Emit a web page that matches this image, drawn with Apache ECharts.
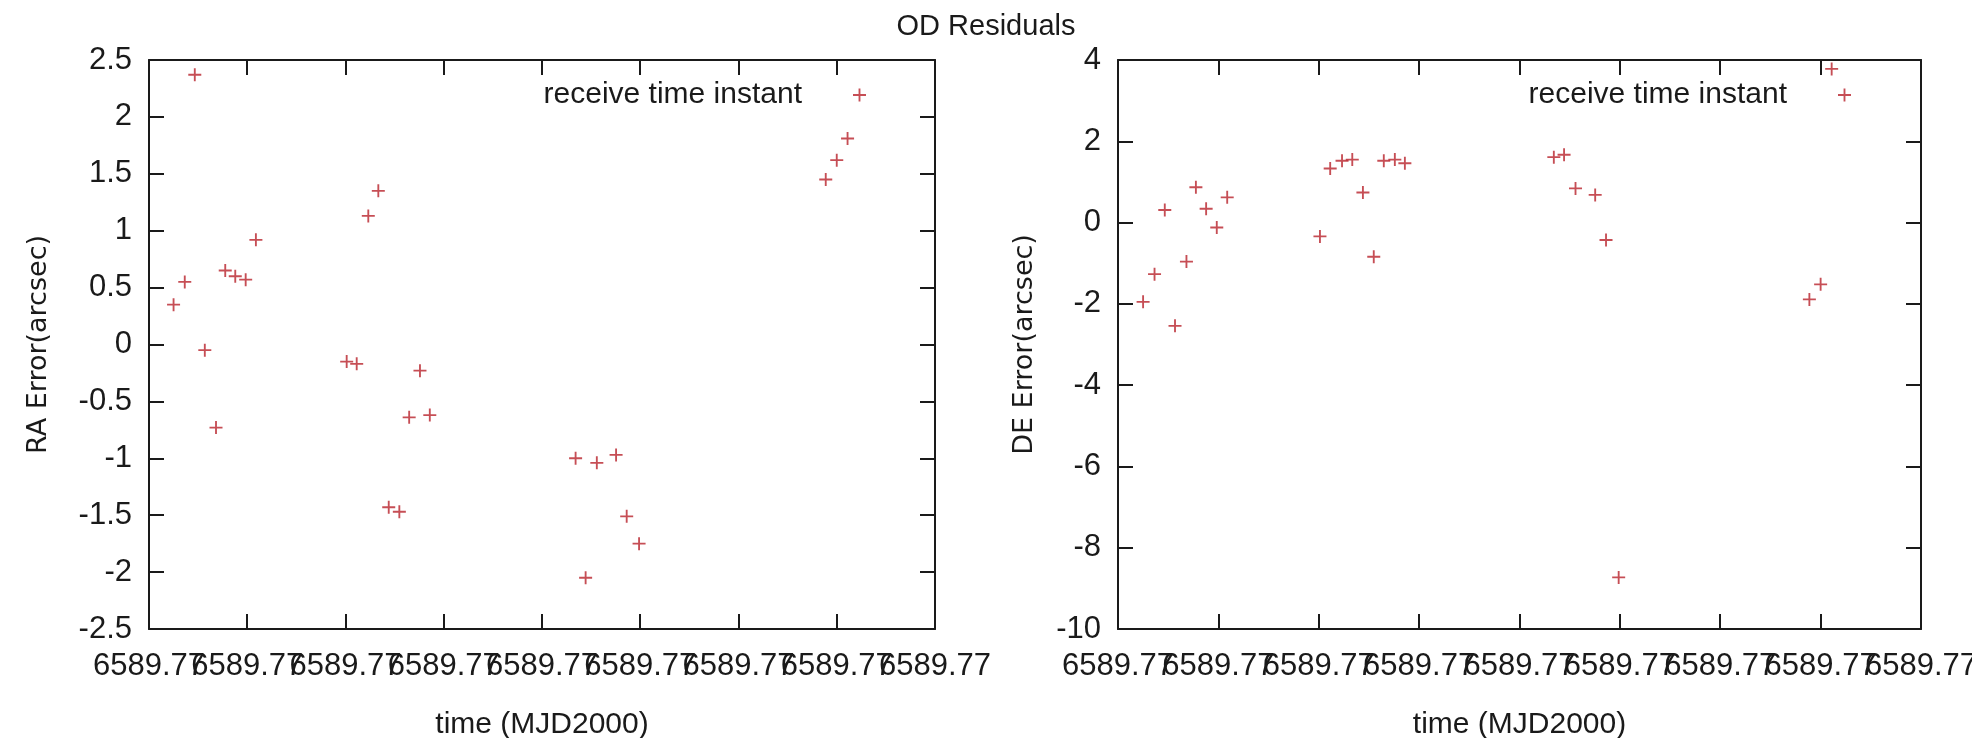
<!DOCTYPE html>
<html>
<head>
<meta charset="utf-8">
<title>OD Residuals</title>
<script src="https://cdn.jsdelivr.net/npm/echarts@6/dist/echarts.min.js"></script>
<style>
  html, body { margin: 0; padding: 0; background: #fff; }
  #main { width: 1972px; height: 738px; }
</style>
</head>
<body>
<div id="main"></div>
<script>
// observation epochs, MJD2000 (shared by both panels)
const timeMJD = [
  6589.770125, 6589.770182, 6589.770233, 6589.770284, 6589.770341, 6589.770388,
  6589.770439, 6589.770492, 6589.770544,
  6589.771006, 6589.771057, 6589.771116, 6589.771167, 6589.771220, 6589.771274,
  6589.771324, 6589.771379, 6589.771429,
  6589.772171, 6589.772222, 6589.772279, 6589.772377, 6589.772431, 6589.772494,
  6589.773444, 6589.773500, 6589.773555
];
// right ascension residuals (arcsec)
const raError = [
  0.35, 0.55, 2.37, -0.05, -0.73, 0.65, 0.60, 0.57, 0.92,
  -0.15, -0.17, 1.13, 1.35, -1.43, -1.47, -0.64, -0.23, -0.62,
  -1.00, -2.05, -1.04, -0.97, -1.51, -1.75,
  1.45, 1.62, 1.81
];
// declination residuals (arcsec)
const deError = [
  -1.95, -1.27, 0.31, -2.54, -0.96, 0.87, 0.34, -0.12, 0.62,
  -0.34, 1.33, 1.52, 1.55, 0.74, -0.84, 1.52, 1.55, 1.46,
  1.61, 1.67, 0.84, 0.68, -0.43, -8.73,
  -1.89, -1.52, 3.78
];
const xTickLabels = [
  '6589.77', '6589.77', '6589.77', '6589.77', '6589.77',
  '6589.77', '6589.77', '6589.77', '6589.77'
];
const seriesName = 'receive time instant';

const xMin = 6589.77, xMax = 6589.774, xStep = 0.0005;
const FONT = "'Liberation Sans', Arial, sans-serif";
const NAME_FONT = "'DejaVu Sans', Verdana, sans-serif";
const ink = '#1a1a1a';
const red = '#b8222a';
const plus = 'path://M6,0H8V6H14V8H8V14H6V8H0V6H6Z';

// parity: 0 / 1 = bottom axis carrying the even / odd tick labels
// (split in two so the overlapping labels are all kept), null = top mirror
function timeAxis(gridIndex, position, parity) {
  const labelled = parity !== null;
  return {
    type: 'value',
    gridIndex: gridIndex,
    position: position,
    offset: 0,
    min: xMin,
    max: xMax,
    interval: xStep,
    name: parity === 0 ? 'time (MJD2000)' : '',
    nameLocation: 'middle',
    nameGap: 81,
    nameTextStyle: { fontFamily: FONT, fontSize: 30, color: ink },
    axisLine: { show: parity !== 1, onZero: false, lineStyle: { color: ink, width: 2 } },
    axisTick: { show: parity !== 1, inside: true, length: 15, lineStyle: { color: ink, width: 2 } },
    axisLabel: {
      show: labelled,
      showMinLabel: true,
      showMaxLabel: true,
      margin: 22,
      fontFamily: FONT,
      fontSize: 31,
      color: ink,
      formatter: function (v) {
        const i = Math.round((v - xMin) / xStep);
        return i % 2 === parity ? xTickLabels[i] : '';
      }
    },
    splitLine: { show: false }
  };
}

function errAxis(gridIndex, position, min, max, step, name, gap) {
  const left = position === 'left';
  return {
    type: 'value',
    gridIndex: gridIndex,
    position: position,
    min: min,
    max: max,
    interval: step,
    name: left ? name : '',
    nameLocation: 'middle',
    nameGap: gap,
    nameTextStyle: { fontFamily: NAME_FONT, fontSize: 27, color: ink },
    axisLine: { show: true, onZero: false, lineStyle: { color: ink, width: 2 } },
    axisTick: { show: true, inside: true, length: 15, lineStyle: { color: ink, width: 2 } },
    axisLabel: {
      show: left, showMinLabel: true, showMaxLabel: true,
      margin: 17, fontFamily: FONT, fontSize: 31, color: ink
    },
    splitLine: { show: false }
  };
}

function legendAt(right) {
  return {
    data: [seriesName],
    right: right,
    top: 80,
    padding: 0,
    align: 'right',
    orient: 'horizontal',
    itemWidth: 13,
    itemHeight: 13,
    selectedMode: false,
    textStyle: { fontFamily: FONT, fontSize: 30, color: ink, padding: [0, 46, 0, 0] }
  };
}

function scatter(idx, values) {
  return {
    name: seriesName,
    type: 'scatter',
    xAxisIndex: idx * 3,
    yAxisIndex: idx * 2,
    symbol: plus,
    symbolSize: 13,
    itemStyle: { color: red },
    emphasis: { disabled: true },
    data: timeMJD.map((t, i) => [t, values[i]])
  };
}

const chart = echarts.init(document.getElementById('main'));
chart.setOption({
  backgroundColor: '#fff',
  animation: false,
  title: {
    text: 'OD Residuals',
    left: 'center',
    top: 12,
    padding: 0,
    textStyle: { fontFamily: FONT, fontSize: 29, fontWeight: 'normal', color: ink }
  },
  legend: [legendAt(1106), legendAt(121)],
  grid: [
    { left: 149, top: 60, width: 786, height: 569, containLabel: false, outerBoundsMode: 'none' },
    { left: 1118, top: 60, width: 803, height: 569, containLabel: false, outerBoundsMode: 'none' }
  ],
  xAxis: [
    timeAxis(0, 'bottom', 0), timeAxis(0, 'bottom', 1), timeAxis(0, 'top', null),
    timeAxis(1, 'bottom', 0), timeAxis(1, 'bottom', 1), timeAxis(1, 'top', null)
  ],
  yAxis: [
    errAxis(0, 'left', -2.5, 2.5, 0.5, 'RA Error(arcsec)', 97),
    errAxis(0, 'right', -2.5, 2.5, 0.5, '', 0),
    errAxis(1, 'left', -10, 4, 2, 'DE Error(arcsec)', 80),
    errAxis(1, 'right', -10, 4, 2, '', 0)
  ],
  series: [scatter(0, raError), scatter(1, deError)]
});
</script>
</body>
</html>
